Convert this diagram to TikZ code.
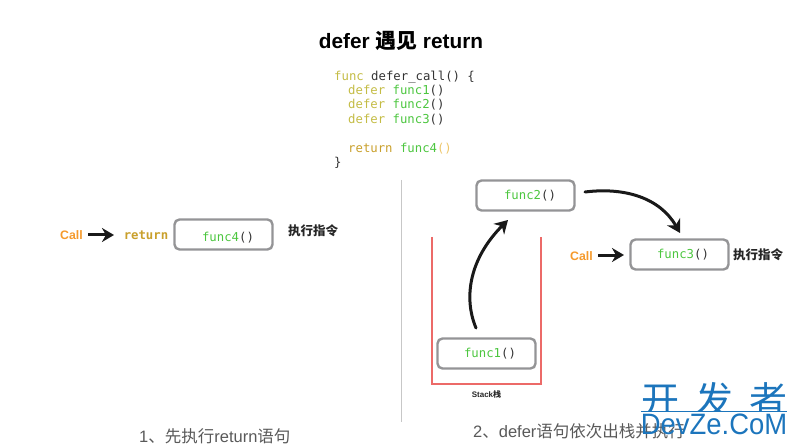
\documentclass[tikz,border=0pt]{standalone}
\usepackage{fontspec}
\usetikzlibrary{arrows.meta}
\setmainfont{Liberation Sans}
\setmonofont{DejaVu Sans Mono}
\newfontfamily\cjk{Noto Sans CJK SC}
\definecolor{kw}{HTML}{C4BC45}
\definecolor{fn}{HTML}{4CC63F}
\definecolor{ret}{HTML}{C9A02C}
\definecolor{par}{HTML}{EDC66A}
\definecolor{ink}{HTML}{333333}
\definecolor{callc}{HTML}{F59A2C}
\definecolor{boxc}{HTML}{949496}
\definecolor{redc}{HTML}{EC6A68}
\definecolor{wm}{HTML}{1C75BC}
\tikzset{
  x=1pt,y=-1pt,
  code/.style={anchor=base west,inner sep=0pt,font=\ttfamily\fontsize{12.3}{14}\selectfont,text=ink},
  fbox/.style={draw=boxc,line width=2.4pt,rounded corners=5pt,minimum width=98pt,minimum height=30pt,inner sep=0pt},
  ftext/.style={anchor=base,inner sep=0pt,font=\ttfamily\fontsize{12.3}{14}\selectfont,text=ink},
  calllab/.style={anchor=base,inner sep=0pt,font=\bfseries\fontsize{12.3}{14}\selectfont,text=callc},
  cmdlab/.style={anchor=base,inner sep=0pt,font=\cjk\bfseries\fontsize{12.5}{14}\selectfont,text=black!85},
  caption/.style={anchor=base west,inner sep=0pt,font=\fontsize{16.5}{18}\selectfont,text=black!65},
  curvearrow/.style={line width=3pt,line cap=round,-{Stealth[length=13pt,width=15pt]},black!90},
  straightarrow/.style={line width=3pt,-{Stealth[length=12pt,width=14pt]},black!90},
  wmtext/.style={anchor=base,inner sep=0pt,text=wm,font=\cjk\fontsize{38}{40}\selectfont},
  stackline/.style={draw=redc,line width=2.4pt}
}
\begin{document}
\begin{tikzpicture}
\useasboundingbox (0,0) rectangle (797,446);
% title
\node[anchor=base,inner sep=0pt,font=\bfseries\fontsize{20.8}{24}\selectfont,text=black] (title) at (401,48.5) {defer {\cjk 遇见} return};
% code
\node[code] (c1) at (334,80.5) {\textcolor{kw}{func} defer\_call() \{};
\node[code] (c2) at (348,94.5) {\textcolor{kw}{defer} \textcolor{fn}{func1}()};
\node[code] (c3) at (348,109) {\textcolor{kw}{defer} \textcolor{fn}{func2}()};
\node[code] (c4) at (348,123.5) {\textcolor{kw}{defer} \textcolor{fn}{func3}()};
\node[code] (c5) at (348,152.5) {\textcolor{ret}{return} \textcolor{fn}{func4}\textcolor{par}{()}};
\node[code] (c6) at (334,166.5) {\}};
% divider
\coordinate (d1) at (401.5,180);
\coordinate (d2) at (401.5,422);
\draw[black!22,line width=0.9pt] (d1) -- (d2);
% left part
\node[calllab] (call1) at (71.5,240) {Call};
\node[anchor=base,inner sep=0pt,font=\ttfamily\bfseries\fontsize{12.3}{14}\selectfont,text=ret] (ret1) at (146,239.5) {return};
\node[fbox] (f4) at (223.5,234.5) {};
\node[ftext] (t4) at (228,241) {\textcolor{fn}{func4}()};
\node[cmdlab] (cmd1) at (313,236) {执行指令};
\coordinate (a1s) at (88,235);
\coordinate (a1e) at (114,235);
\draw[straightarrow] (a1s) -- (a1e);
% stack
\coordinate (s1) at (432,237);
\coordinate (s2) at (432,384);
\coordinate (s3) at (541,384);
\coordinate (s4) at (541,237);
\draw[stackline] (s1) -- (s2) -- (s3) -- (s4);
\node[fbox] (f1) at (486.5,353.5) {};
\node[ftext] (t1) at (490,357.5) {\textcolor{fn}{func1}()};
\node[fbox] (f2) at (525.5,195.5) {};
\node[ftext] (t2) at (530,199.5) {\textcolor{fn}{func2}()};
\node[fbox] (f3) at (679.5,254.5) {};
\node[ftext] (t3) at (683,258.5) {\textcolor{fn}{func3}()};
\node[anchor=base,inner sep=0pt,font=\bfseries\fontsize{8}{9}\selectfont,text=black!85] (stk) at (486.5,397) {Stack{\cjk 栈}};
\node[calllab] (call2) at (581.5,260) {Call};
\node[cmdlab] (cmd2) at (758,259) {执行指令};
\coordinate (a2s) at (598,255);
\coordinate (a2e) at (624,255);
\draw[straightarrow] (a2s) -- (a2e);
\coordinate (a3s) at (476,328);
\coordinate (a3e) at (508,220);
\draw[curvearrow] (a3s) .. controls (463,297) and (470,258) .. (a3e);
\coordinate (a4s) at (585,192);
\coordinate (a4e) at (680,233);
\draw[curvearrow] (a4s) .. controls (625,187) and (660,198) .. (a4e);
% captions
\node[caption] (cap1) at (139,442) {1{\cjk 、先执行}return{\cjk 语句}};
\node[caption] (cap2) at (473,437) {2{\cjk 、}defer{\cjk 语句依次出栈并执行}};
% watermark
\begin{scope}
\clip (630,370) rectangle (797,411);
\node[wmtext] (w1) at (660,414) {开};
\node[wmtext] (w2) at (714.5,414) {发};
\node[wmtext] (w3) at (768.5,414) {者};
\end{scope}
\coordinate (wl1) at (641,411.5);
\coordinate (wl2) at (787,411.5);
\draw[wm,line width=0.7pt] (wl1) -- (wl2);
\node[anchor=base,inner sep=0pt,text=wm,font=\fontsize{29.5}{34}\selectfont] (w4) at (714,434.5) {\scalebox{0.93}[1]{DevZe.CoM}};
\end{tikzpicture}
\end{document}
